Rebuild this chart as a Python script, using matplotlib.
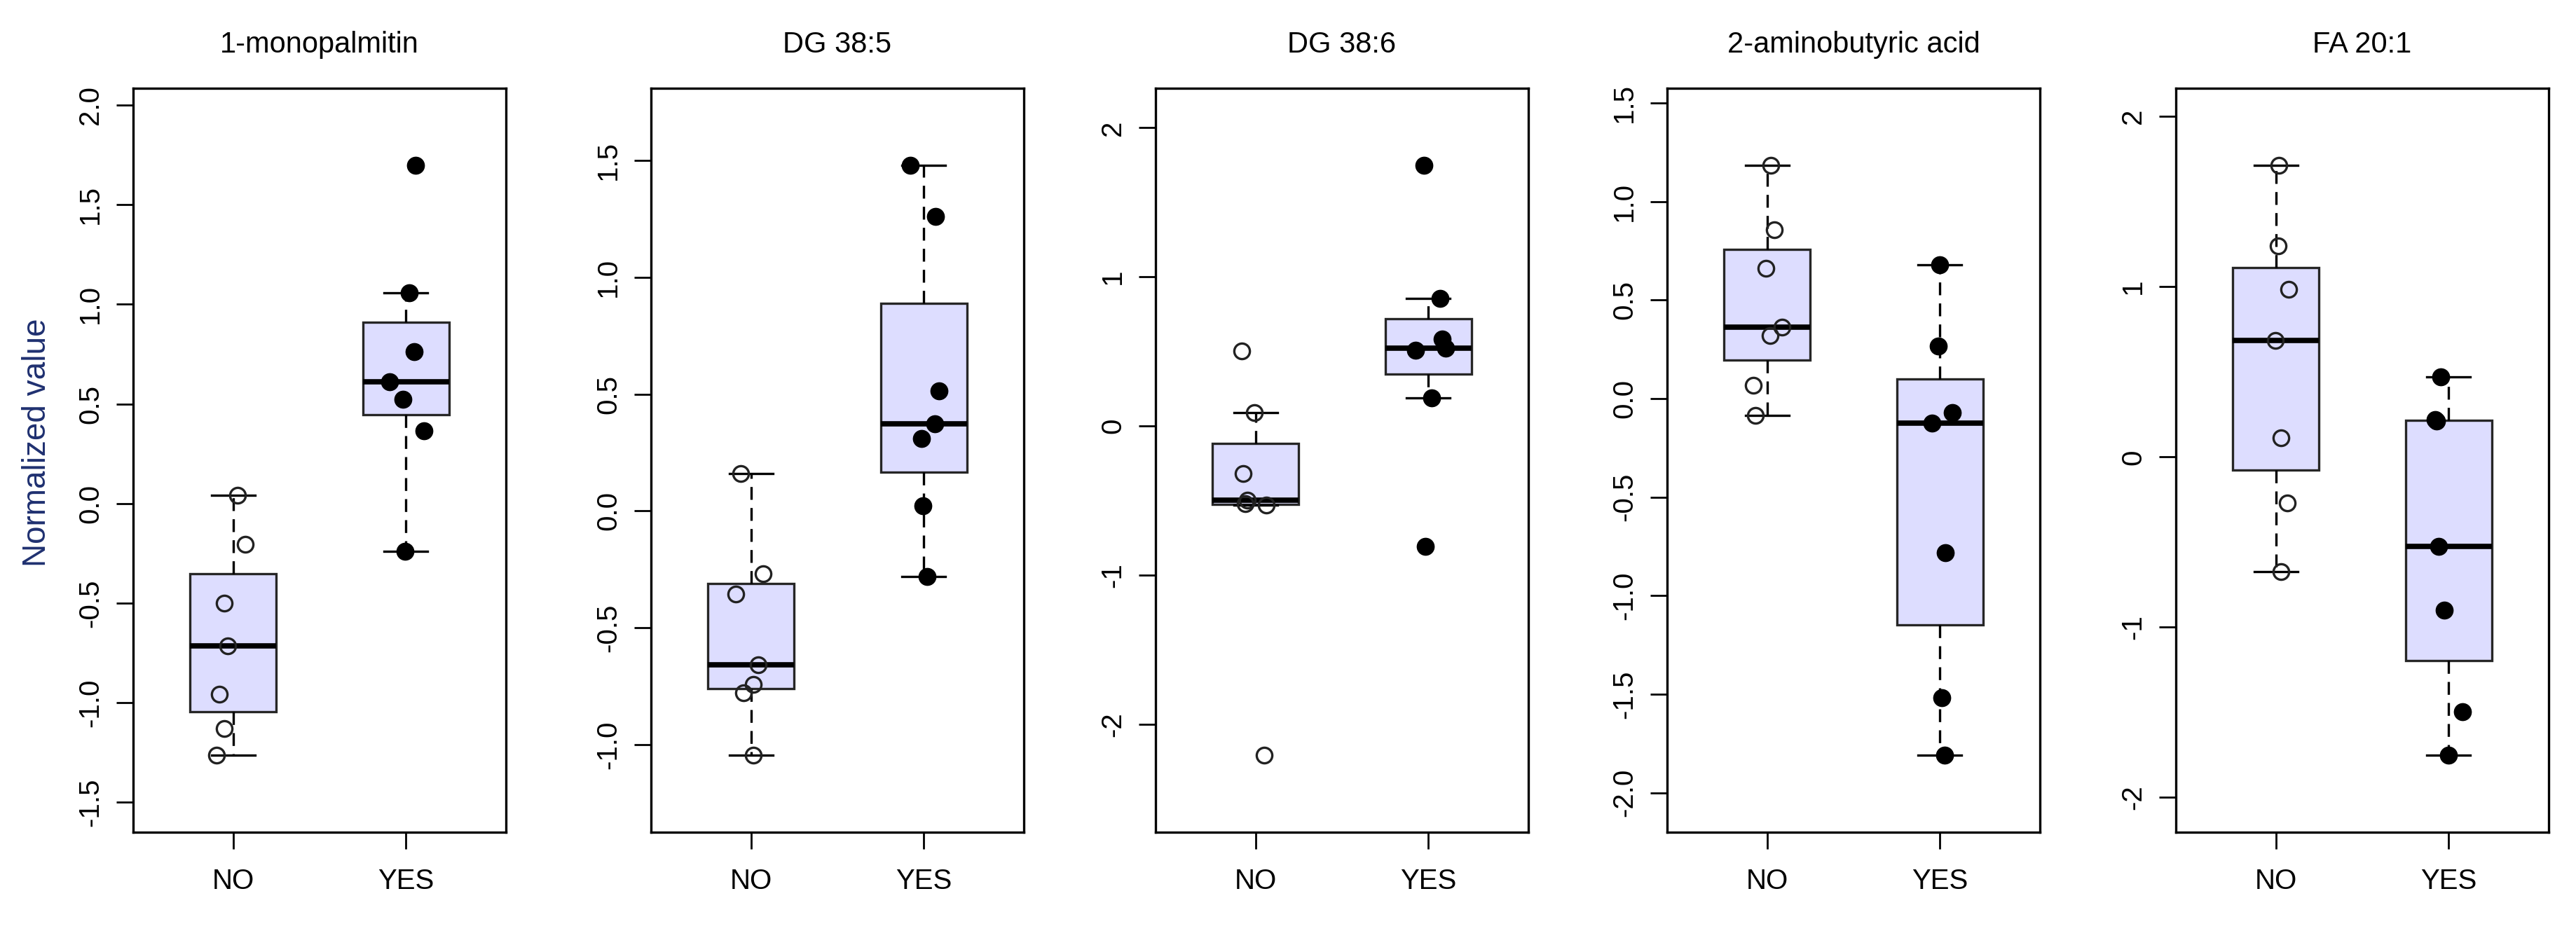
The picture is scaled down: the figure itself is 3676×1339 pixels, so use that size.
"""Five boxplots (NO / YES) of normalized metabolite values with jittered points."""
import numpy as np
import matplotlib
matplotlib.use("Agg")
import matplotlib.pyplot as plt  # noqa: E402

plt.rcParams["font.family"] = ["Liberation Sans", "DejaVu Sans"]
plt.rcParams["axes.unicode_minus"] = False

titles = ["1-monopalmitin", "DG 38:5", "DG 38:6", "2-aminobutyric acid", "FA 20:1"]
groups = ["NO", "YES"]

# values (7 samples per group)
mono_no = [0.04, -0.205, -0.50, -0.715, -0.958, -1.13, -1.265]
mono_yes = [1.699, 1.057, 0.762, 0.611, 0.524, 0.364, -0.241]
dg385_no = [0.160, -0.268, -0.356, -0.660, -0.743, -0.779, -1.047]
dg385_yes = [1.481, 1.262, 0.513, 0.374, 0.310, 0.021, -0.281]
dg386_no = [0.504, 0.088, -0.319, -0.50, -0.52, -0.53, -2.21]
dg386_yes = [1.75, 0.855, 0.585, 0.524, 0.508, 0.190, -0.806]
abu_no = [1.185, 0.855, 0.660, 0.363, 0.321, 0.067, -0.085]
abu_yes = [0.678, 0.266, -0.070, -0.125, -0.782, -1.518, -1.811]
fa_no = [1.714, 1.240, 0.986, 0.682, 0.113, -0.269, -0.675]
fa_yes = [0.470, 0.218, 0.210, -0.527, -0.898, -1.495, -1.753]

# horizontal jitter of each point (x units)
mono_no_dx = [0.024, 0.069, -0.053, -0.032, -0.081, -0.053, -0.097]
mono_yes_dx = [0.058, 0.021, 0.048, -0.092, -0.015, 0.104, -0.006]
dg385_no_dx = [-0.059, 0.068, -0.088, 0.043, 0.014, -0.043, 0.012]
dg385_yes_dx = [-0.078, 0.070, 0.088, 0.063, -0.014, -0.004, 0.020]
dg386_no_dx = [-0.080, -0.006, -0.073, -0.049, -0.061, 0.061, 0.051]
dg386_yes_dx = [-0.025, 0.068, 0.082, 0.100, -0.072, 0.020, -0.016]
abu_no_dx = [0.020, 0.043, -0.006, 0.084, 0.016, -0.080, -0.070]
abu_yes_dx = [0.0, -0.010, 0.074, -0.045, 0.031, 0.010, 0.027]
fa_no_dx = [0.018, 0.014, 0.074, -0.004, 0.027, 0.066, 0.029]
fa_yes_dx = [-0.045, -0.077, -0.068, -0.059, -0.023, 0.082, 0.0]

# y tick labels per panel
mono_ticks = ["-1.5", "-1.0", "-0.5", "0.0", "0.5", "1.0", "1.5", "2.0"]
dg385_ticks = ["-1.0", "-0.5", "0.0", "0.5", "1.0", "1.5"]
dg386_ticks = ["-2", "-1", "0", "1", "2"]
abu_ticks = ["-2.0", "-1.5", "-1.0", "-0.5", "0.0", "0.5", "1.0", "1.5"]
fa_ticks = ["-2", "-1", "0", "1", "2"]

panels = [
    (mono_no, mono_yes, mono_no_dx, mono_yes_dx, mono_ticks),
    (dg385_no, dg385_yes, dg385_no_dx, dg385_yes_dx, dg385_ticks),
    (dg386_no, dg386_yes, dg386_no_dx, dg386_yes_dx, dg386_ticks),
    (abu_no, abu_yes, abu_no_dx, abu_yes_dx, abu_ticks),
    (fa_no, fa_yes, fa_no_dx, fa_yes_dx, fa_ticks),
]

BOX_FILL = "#DDDDFF"
EDGE = "#262626"


def fivenum(v):
    """Tukey's five numbers, as R's fivenum()."""
    v = np.sort(np.asarray(v, float))
    n = len(v)
    n4 = np.floor((n + 3) / 2) / 2
    d = np.array([1, n4, (n + 1) / 2, n + 1 - n4, n]) - 1
    return 0.5 * (v[np.floor(d).astype(int)] + v[np.ceil(d).astype(int)])


def box_stats(v):
    v = np.asarray(v, float)
    _, q1, med, q3, _ = fivenum(v)
    iqr = q3 - q1
    inside = v[(v >= q1 - 1.5 * iqr) & (v <= q3 + 1.5 * iqr)]
    return {"med": med, "q1": q1, "q3": q3,
            "whislo": inside.min(), "whishi": inside.max(), "fliers": []}


fig = plt.figure(figsize=(36.76, 13.39), dpi=100)
W, H = 3676, 1339
lefts = [190, 929, 1649, 2379, 3105]
top, bottom, width = 126, 1188, 532

for i, (no, yes, dx_no, dx_yes, ticks) in enumerate(panels):
    ax = fig.add_axes([lefts[i] / W, 1 - bottom / H, width / W, (bottom - top) / H])
    ax.bxp([box_stats(no), box_stats(yes)], positions=[1, 2], widths=0.5,
           capwidths=0.25, patch_artist=True, showfliers=False,
           boxprops=dict(facecolor=BOX_FILL, edgecolor=EDGE, lw=2.4),
           medianprops=dict(color="black", lw=5.5, solid_capstyle="butt"),
           whiskerprops=dict(color="black", lw=2.4, ls=(0, (5.5, 3.5))),
           capprops=dict(color="black", lw=2.4))
    ax.plot(1 + np.array(dx_no), no, "o", mfc="none", mec="#222222",
            ms=16, mew=2.4, zorder=4)
    ax.plot(2 + np.array(dx_yes), yes, "o", color="black", ms=17.5, zorder=4)

    allv = np.concatenate([no, yes])
    r = allv.max() - allv.min()
    ax.set_ylim(allv.min() - 0.13 * r, allv.max() + 0.13 * r)
    ax.set_xlim(0.42, 2.58)

    ax.set_xticks([1, 2])
    ax.set_xticklabels(groups)
    ax.set_yticks([float(t) for t in ticks])
    ax.set_yticklabels(ticks, rotation=90, va="center")
    ax.tick_params(direction="out", length=17, width=2.0, labelsize=29,
                   colors="black")
    ax.tick_params(axis="x", pad=20)
    ax.tick_params(axis="y", pad=13)
    for s in ax.spines.values():
        s.set_linewidth(2.4)
        s.set_color("black")
    ax.set_title(titles[i], fontsize=30, pad=37)

fig.text(53 / W, 1 - 632 / H, "Normalized value", rotation=90, ha="center",
         va="center", fontsize=33, color="#1f3070",
         family=["Liberation Sans Narrow", "Liberation Sans"])

fig.savefig("out.png", dpi=100, facecolor="white")
